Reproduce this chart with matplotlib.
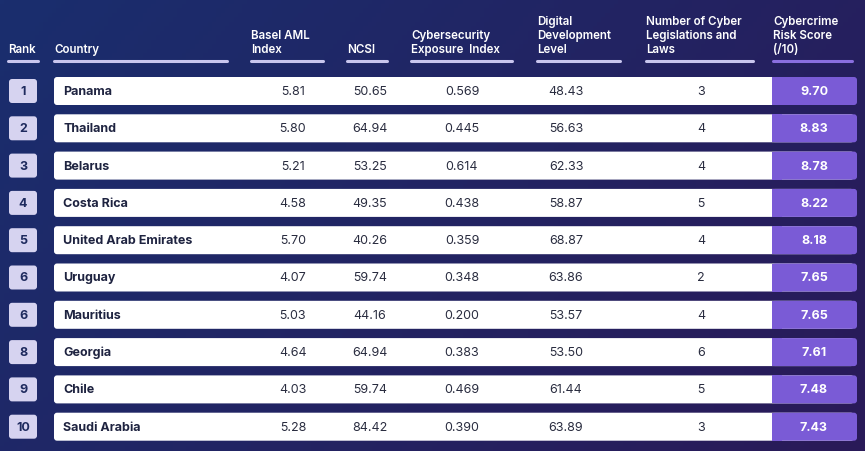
import numpy as np
import matplotlib; matplotlib.use("Agg"); import matplotlib.pyplot as plt
from matplotlib.patches import FancyBboxPatch, Rectangle

ranks = ["1", "2", "3", "4", "5", "6", "6", "8", "9", "10"]
countries = ["Panama", "Thailand", "Belarus", "Costa Rica", "United Arab Emirates",
             "Uruguay", "Mauritius", "Georgia", "Chile", "Saudi Arabia"]
basel = ["5.81", "5.80", "5.21", "4.58", "5.70", "4.07", "5.03", "4.64", "4.03", "5.28"]
ncsi = ["50.65", "64.94", "53.25", "49.35", "40.26", "59.74", "44.16", "64.94", "59.74", "84.42"]
cei = ["0.569", "0.445", "0.614", "0.438", "0.359", "0.348", "0.200", "0.383", "0.469", "0.390"]
ddl = ["48.43", "56.63", "62.33", "58.87", "68.87", "63.86", "53.57", "53.50", "61.44", "63.89"]
laws = ["3", "4", "4", "5", "4", "2", "4", "6", "5", "3"]
score = ["9.70", "8.83", "8.78", "8.22", "8.18", "7.65", "7.65", "7.61", "7.48", "7.43"]
headers = ["Rank", "Country", "Basel AML\nIndex", "NCSI", "Cybersecurity\nExposure  Index",
           "Digital\nDevelopment\nLevel", "Number of Cyber\nLegislations and\nLaws", "Cybercrime\nRisk Score\n(/10)"]

plt.rcParams["font.family"] = "Inter"
W, H = 865, 452
fig = plt.figure(figsize=(W / 100, H / 100), dpi=100)
ax = fig.add_axes([0, 0, 1, 1]); ax.set_xlim(0, W); ax.set_ylim(H, 0); ax.axis("off")

# background gradient
gx = np.linspace(0, 1, 200)[None, :]; gy = np.linspace(0, 1, 100)[:, None]
c0 = np.array([0x1a, 0x2e, 0x6e]) / 255; c1 = np.array([0x2a, 0x1a, 0x58]) / 255
t = np.clip(0.7 * gx + 0.3 * gy, 0, 1)[..., None]
ax.imshow(c0 * (1 - t) + c1 * t, extent=[0, W, H, 0], aspect="auto", zorder=0)

hx = [8, 54, 251, 347, 411, 537, 646, 773]
hx2 = [38, 227, 323, 387, 512, 620, 753, 852]
for i, h in enumerate(headers):
    ax.text(hx[i], 56, h, color="white", fontsize=8.3, fontweight="semibold", va="bottom", ha="left", linespacing=1.2)
    ax.plot([hx[i], hx2[i]], [62, 62], color="#8a6fe0" if i == 7 else "#c9c6ee", lw=2.2, solid_capstyle="round")

cx = [293, 370, 462, 566, 701]
lav = "#d6d3f0"; purple = "#7a5bd6"
for r in range(len(countries)):
    y = 92 + r * 37.3
    ax.add_patch(FancyBboxPatch((9, y - 12), 28, 24, boxstyle="round,pad=0,rounding_size=3", fc=lav, ec="none"))
    ax.text(23, y, ranks[r], color="#1e2a5e", fontsize=9, fontweight="bold", ha="center", va="center")
    ax.add_patch(FancyBboxPatch((54, y - 14), 800, 28, boxstyle="round,pad=0,rounding_size=3", fc="white", ec="none"))
    ax.add_patch(FancyBboxPatch((772, y - 14), 85, 28, boxstyle="round,pad=0,rounding_size=3", fc=purple, ec="none"))
    ax.add_patch(Rectangle((772, y - 14), 10, 28, fc=purple, ec="none"))
    ax.text(63, y, countries[r], color="#1e2340", fontsize=9, fontweight="bold", ha="left", va="center")
    for x, col in zip(cx, [basel, ncsi, cei, ddl, laws]):
        ax.text(x, y, col[r], color="#2a2d40", fontsize=9, ha="center", va="center")
    ax.text(814, y, score[r], color="white", fontsize=9, fontweight="bold", ha="center", va="center")

fig.savefig("out.png", dpi=100)
